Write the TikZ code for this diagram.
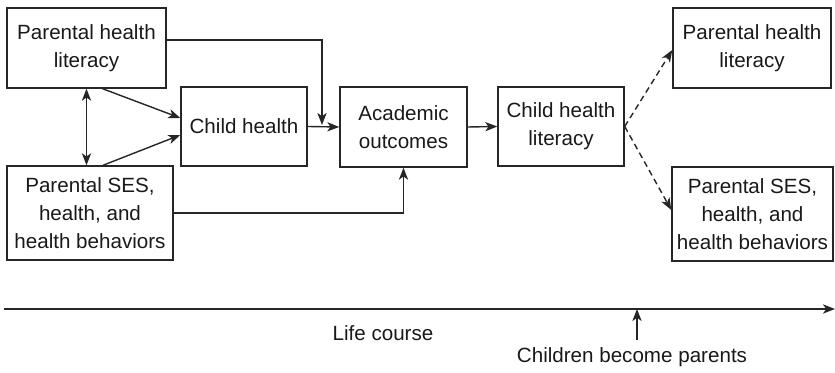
\documentclass[tikz,border=0pt]{standalone}
\usepackage{fontspec}
\setmainfont{Liberation Sans}
\usetikzlibrary{arrows.meta}

\begin{document}
\begin{tikzpicture}[x=0.5pt,y=-0.5pt,line width=0.7pt,black!85,
    >={Stealth[length=6pt,width=4.6pt,inset=1.6pt]},
    box/.style={draw,inner sep=0pt,align=center,text=black!90,font=\fontsize{10.3}{14}\selectfont},
    lbl/.style={inner sep=0pt,text=black!90,font=\fontsize{10.3}{14}\selectfont}]
      \useasboundingbox (0,0) rectangle (835,373);
      \node[box,minimum width=79.5pt,minimum height=40pt] (plitL) at (86.5,48) {Parental health\\literacy};
      \node[box,minimum width=83pt,minimum height=47pt] (sesL) at (90,213) {Parental SES,\\health, and\\health behaviors};
      \node[box,minimum width=63pt,minimum height=39.5pt] (child) at (244,126.5) {Child health};
      \node[box,minimum width=63.5pt,minimum height=40pt] (acad) at (403.5,127) {Academic\\outcomes};
      \node[box,minimum width=63pt,minimum height=39.5pt] (chl) at (561,126.5) {Child health\\literacy};
      \node[box,minimum width=79pt,minimum height=40pt] (plitR) at (752,48) {Parental health\\literacy};
      \node[box,minimum width=80.5pt,minimum height=47pt] (sesR) at (752.5,214) {Parental SES,\\health, and\\health behaviors};

      \draw[<->] (plitL.south) -- (plitL.south |- sesL.north);
      \draw[->] ([xshift=8pt]plitL.south) -- ([yshift=4.25pt]child.west);
      \draw[->] ([xshift=6.5pt]sesL.north) -- ([yshift=-4.25pt]child.west);
      \coordinate (junc) at (322,125);
      \draw[->] ([yshift=4pt]plitL.east) -| (junc);
      \draw[->] (child.east) -- (acad.west);
      \draw[->] (sesL.east) -| (acad.south);
      \draw[->] (acad.east) -- (chl.west);
      \draw[->,dash pattern=on 3pt off 2pt] (chl.east) -- ([yshift=-1pt]plitR.west);
      \draw[->,dash pattern=on 3pt off 2pt] (chl.east) -- ([yshift=2pt]sesR.west);

      \coordinate (tlStart) at (4,309);
      \coordinate (tlEnd) at (835,309);
      \draw[->] (tlStart) -- (tlEnd);
      \node[lbl] (life) at (383,333) {Life course};
      \node[lbl] (become) at (632,357) {Children become parents};
      \coordinate (mark) at (637,340);
      \draw[->] (mark) -- (mark |- tlEnd);
\end{tikzpicture}
\end{document}
